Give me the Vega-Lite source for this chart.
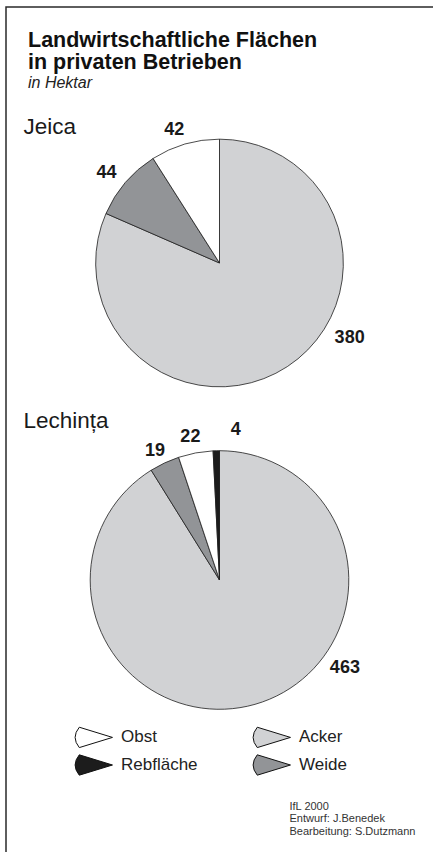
{
  "$schema": "https://vega.github.io/schema/vega-lite/v6.json",
  "width": 427,
  "height": 845,
  "autosize": {"type": "none"},
  "padding": {"left": 6, "top": 7, "right": 0, "bottom": 0},
  "background": "white",
  "title": {
    "text": ["Landwirtschaftliche Flächen", "in privaten Betrieben"],
    "subtitle": "in Hektar",
    "anchor": "start",
    "frame": "group",
    "offset": -84,
    "dx": 22,
    "font": "Liberation Sans",
    "fontSize": 21.5,
    "fontWeight": "bold",
    "color": "#111111",
    "lineHeight": 22,
    "subtitleFont": "Liberation Sans",
    "subtitleFontSize": 16,
    "subtitleFontStyle": "italic",
    "subtitleColor": "#222222",
    "subtitlePadding": 2
  },
  "data": {
    "values": [
      {"Ort": "Jeica", "Art": "Acker", "Hektar": 380, "Nr": 1},
      {"Ort": "Jeica", "Art": "Weide", "Hektar": 44, "Nr": 2},
      {"Ort": "Jeica", "Art": "Obst", "Hektar": 42, "Nr": 3},
      {"Ort": "Lechința", "Art": "Acker", "Hektar": 463, "Nr": 1},
      {"Ort": "Lechința", "Art": "Weide", "Hektar": 19, "Nr": 2},
      {"Ort": "Lechința", "Art": "Obst", "Hektar": 22, "Nr": 3},
      {"Ort": "Lechința", "Art": "Rebfläche", "Hektar": 4, "Nr": 4}
    ]
  },
  "transform": [
    {"joinaggregate": [{"op": "sum", "field": "Hektar", "as": "Gesamt"}], "groupby": ["Ort"]}
  ],
  "encoding": {
    "theta": {"field": "Hektar", "type": "quantitative", "stack": "normalize"},
    "order": {"field": "Nr", "type": "quantitative"},
    "y": {
      "field": "Ort",
      "type": "nominal",
      "scale": {"type": "point", "domain": ["Jeica", "Lechința"], "range": [256, 573], "padding": 0},
      "axis": {
        "title": ["IfL 2000", "Entwurf: J.Benedek", "Bearbeitung: S.Dutzmann"],
        "titleAngle": 0,
        "titleX": 283,
        "titleY": 802,
        "titleAlign": "left",
        "titleBaseline": "alphabetic",
        "titleFont": "Liberation Sans",
        "titleFontSize": 11,
        "titleFontWeight": "normal",
        "titleColor": "#333333",
        "titleLineHeight": 12.7,
        "domain": false,
        "ticks": false,
        "grid": false,
        "labelAlign": "left",
        "labelBaseline": "alphabetic",
        "labelPadding": -17,
        "labelFont": "Liberation Sans",
        "labelFontSize": 22.5,
        "labelColor": "#1a1a1a",
        "labelOverlap": false,
        "labelOffset": {"condition": {"test": "datum.value === 'Jeica'", "value": -130}, "value": -153}
      }
    }
  },
  "layer": [
    {
      "mark": {"type": "arc", "stroke": "#1e1e1e", "strokeWidth": 0.8},
      "encoding": {
        "radius": {"field": "Gesamt", "type": "quantitative", "scale": {"type": "sqrt", "zero": true, "domain": [0, 508], "range": [0, 129.3]}},
        "color": {
          "field": "Art",
          "type": "nominal",
          "scale": {"domain": ["Obst", "Rebfläche", "Acker", "Weide"], "range": ["#ffffff", "#1c1c1c", "#d1d2d4", "#929497"]},
          "legend": {
            "title": null,
            "orient": "none",
            "legendX": 69,
            "legendY": 719,
            "padding": 0,
            "columns": 2,
            "columnPadding": 53,
            "rowPadding": 2,
            "symbolType": "M1.76,0L-1.4,-0.97Q-2.2,0,-1.4,0.97Z",
            "symbolSize": 441,
            "symbolOffset": 8,
            "symbolStrokeColor": "#111111",
            "symbolStrokeWidth": 1,
            "symbolOpacity": 1,
            "labelOffset": 16,
            "labelFont": "Liberation Sans",
            "labelFontSize": 17,
            "labelColor": "#222222"
          }
        }
      }
    },
    {
      "mark": {
        "type": "text",
        "font": "Liberation Sans",
        "fontSize": 18,
        "fontWeight": "bold",
        "color": "#1a1a1a",
        "dx": {"expr": "datum.Art === 'Acker' ? (datum.Ort === 'Jeica' ? 53 : 85) : datum.Art === 'Rebfläche' ? 20 : (datum.Ort === 'Jeica' ? -6 : -2)"},
        "dy": {"expr": "datum.Art === 'Acker' ? (datum.Ort === 'Jeica' ? -43 : -53) : datum.Art === 'Rebfläche' ? -3 : (datum.Ort === 'Jeica' ? 2 : (datum.Art === 'Weide' ? 4 : 1))"}
      },
      "encoding": {
        "radius": {"field": "Gesamt", "type": "quantitative", "scale": {"type": "sqrt", "zero": true, "domain": [0, 508], "range": [0, 147]}},
        "text": {"field": "Hektar", "type": "quantitative"}
      }
    }
  ],
  "resolve": {"scale": {"radius": "independent"}},
  "config": {
    "view": {"stroke": "#2a2a2a", "strokeWidth": 1.5, "strokeDash": [427, 1272, 845]}
  }
}
